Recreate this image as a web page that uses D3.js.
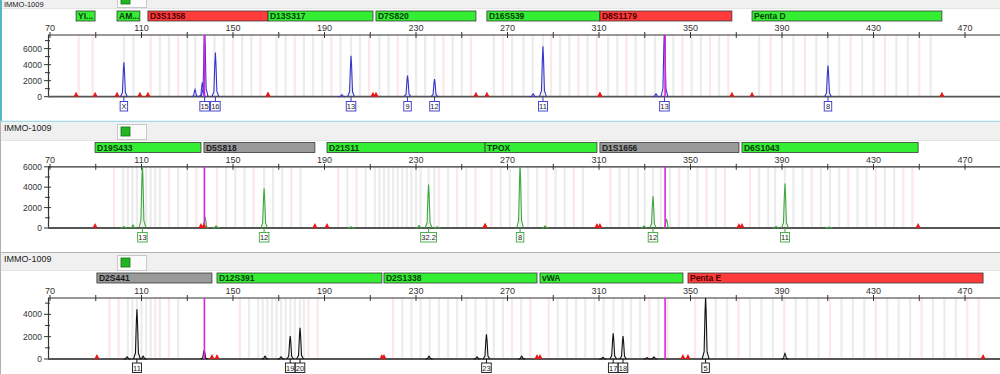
<!DOCTYPE html>
<html><head><meta charset="utf-8">
<script src="https://cdn.jsdelivr.net/npm/d3@7"></script>
<style>body{margin:0;background:#fff;overflow:hidden}svg{display:block;font-family:"Liberation Sans",Arial,sans-serif}</style>
</head><body><svg id="c" width="1000" height="374"></svg>
<script>
// ---------- data ----------
const sampleName = "IMMO-1009";
const bpTicks = [70,90,110,130,150,170,190,210,230,250,270,290,310,330,350,370,390,410,430,450,470,490];
const bpLabels = [70,110,150,190,230,270,310,350,390,430,470];
const editLines = [137.5, 338.9];

// markers: [name, startBp, endBp, status]
const blueMarkers = [["YI...",81.4,89.7,"ok"],["AM...",99.3,109.3,"ok"],["D3S1358",112.8,165.3,"bad"],["D13S317",165.3,211.2,"ok"],["D7S820",212.5,256.2,"ok"],["D16S539",261.0,310.4,"ok"],["D8S1179",310.4,368.1,"bad"],["Penta D",376.9,459.9,"ok"]];
const greenMarkers = [["D19S433",89.7,136.0,"ok"],["D5S818",137.3,185.8,"off"],["D21S11",191.1,260.2,"ok"],["TPOX",260.2,309.1,"ok"],["D1S1656",310.4,371.2,"off"],["D6S1043",372.5,449.5,"ok"]];
const yellowMarkers = [["D2S441",90.5,140.8,"off"],["D12S391",143.0,215.1,"ok"],["D2S1338",216.0,282.9,"ok"],["vWA",284.2,346.7,"ok"],["Penta E",348.9,477.9,"bad"]];

// peaks: [bp, rfu, allele]
const bluePeaks = [[102.3,4300,"X"],[133.4,900,null],[136.6,1800,null],[137.6,8500,"15"],[142.3,5500,"16"],[197.6,250,null],[201.6,5100,"13"],[226.3,2650,"9"],[238.1,2200,"12"],[281.2,350,null],[285.5,6300,"11"],[334.9,350,null],[338.6,8500,"13"],[410.1,3900,"8"]];
const greenPeaks = [[102.3,150,null],[106.3,300,null],[110.4,6100,"13"],[137.8,1100,null],[142.6,200,null],[163.6,3900,"12"],[201.6,120,null],[231.3,250,null],[235.5,4250,"32.2"],[239.2,120,null],[275.5,6100,"8"],[286.4,200,null],[329.7,200,null],[333.6,3100,"12"],[339.5,900,null],[387.4,150,null],[391.3,4350,"11"],[410.5,100,null]];
const yellowPeaks = [[103.7,200,null],[108.0,4450,"11"],[110.7,250,null],[137.4,800,null],[164.0,250,null],[171.0,200,null],[175.0,2050,"19"],[179.3,2800,"20"],[235.7,250,null],[256.7,200,null],[260.8,2200,"23"],[276.2,250,null],[311.7,150,null],[316.2,2300,"17"],[320.5,2050,"18"],[331.0,120,null],[334.0,180,null],[356.6,5500,"5"],[391.3,500,null]];

// bins: [bp, kind]  g = ladder bin, p = virtual bin
const blueBins = [[82.5,"p"],[88.6,"p"],[102.3,"g"],[106.5,"g"],[114,"p"],[118,"g"],[122,"g"],[126,"p"],[130,"g"],[133.5,"g"],[137.6,"g"],[141.9,"g"],[146,"g"],[150,"p"],[154,"g"],[158,"g"],[162,"p"],[169,"g"],[173,"g"],[177,"p"],[181,"g"],[185,"g"],[189,"g"],[193,"p"],[197,"g"],[201.6,"g"],[205.5,"g"],[209.5,"p"],[214,"g"],[218,"g"],[222,"p"],[226.3,"g"],[230,"g"],[234,"g"],[238.1,"g"],[242,"p"],[246,"g"],[250,"g"],[254,"p"],[264,"g"],[268,"p"],[272,"g"],[277,"g"],[281,"g"],[285.5,"g"],[289,"p"],[293,"g"],[297,"g"],[301,"p"],[305,"g"],[309,"p"],[314,"g"],[318,"g"],[322,"p"],[326,"g"],[330,"g"],[334.5,"g"],[338.6,"g"],[342.5,"g"],[346.5,"p"],[350.5,"g"],[354.5,"g"],[358.5,"p"],[362.5,"g"],[366.5,"p"],[380,"g"],[385,"p"],[390,"g"],[395,"g"],[400,"p"],[405,"g"],[410.1,"g"],[415,"g"],[420,"p"],[425,"g"],[430,"g"],[435,"p"],[440,"g"],[445,"g"],[450,"p"],[455,"g"]];
const greenBins = [[98,"p"],[102,"g"],[104,"g"],[106,"g"],[108,"g"],[110.4,"g"],[112,"g"],[114,"g"],[116,"g"],[118,"g"],[122,"p"],[126,"g"],[130,"g"],[134,"p"],[143,"p"],[147,"g"],[151,"g"],[155,"g"],[159,"p"],[163.6,"g"],[167.5,"g"],[171.5,"g"],[175.5,"p"],[179.5,"g"],[196,"p"],[200,"g"],[204,"p"],[208,"g"],[212,"g"],[214,"g"],[216,"g"],[218,"g"],[220,"g"],[222,"g"],[224,"g"],[226,"g"],[228,"g"],[230,"g"],[232,"g"],[235.5,"g"],[238,"g"],[240,"p"],[244,"g"],[248,"p"],[252,"g"],[256,"p"],[263,"p"],[267,"g"],[271,"g"],[275.5,"g"],[279,"g"],[283,"g"],[287,"p"],[291,"g"],[295,"g"],[299,"p"],[303,"g"],[315,"p"],[319,"g"],[323,"g"],[327,"g"],[330,"g"],[333.6,"g"],[337,"g"],[341,"g"],[345,"p"],[349,"g"],[353,"g"],[357,"p"],[361,"g"],[365,"p"],[376,"p"],[380,"g"],[384,"g"],[387,"g"],[391.3,"g"],[395,"g"],[399,"g"],[403,"p"],[407,"g"],[411,"g"],[415,"g"],[419,"p"],[423,"g"],[427,"g"],[431,"p"],[435,"g"],[439,"g"],[443,"p"],[447,"p"]];
const yellowBins = [[96,"p"],[100,"p"],[104,"g"],[106,"g"],[108,"g"],[110,"g"],[112,"g"],[114,"g"],[116,"p"],[118,"g"],[122,"p"],[126,"g"],[153,"p"],[157,"g"],[161,"g"],[163,"g"],[165,"g"],[167,"g"],[169,"g"],[171,"g"],[173,"g"],[175.1,"g"],[177,"g"],[179.3,"g"],[181,"g"],[183,"p"],[187,"p"],[220,"p"],[224,"g"],[228,"g"],[232,"g"],[236,"g"],[240,"g"],[244,"g"],[248,"g"],[252,"g"],[256,"g"],[260.8,"g"],[264,"g"],[268,"g"],[272,"p"],[276,"g"],[280,"p"],[288,"p"],[292,"g"],[296,"g"],[300,"g"],[304,"g"],[308,"g"],[312,"g"],[316.3,"g"],[320.3,"g"],[324,"g"],[328,"g"],[332,"p"],[336,"g"],[340,"p"],[352,"p"],[356.6,"g"],[361,"g"],[366,"g"],[371,"p"],[376,"g"],[381,"g"],[386,"g"],[391,"p"],[396,"g"],[401,"g"],[406,"g"],[411,"p"],[416,"g"],[421,"g"],[426,"g"],[431,"p"],[436,"g"],[441,"g"],[446,"g"],[451,"p"],[456,"g"],[461,"g"],[466,"g"],[471,"p"],[476,"p"]];

const rfuTicks1 = [0,2000,4000,6000], rfuMinor1 = [1000,3000,5000,7000];
const rfuTicks2 = [0,2000,4000,6000], rfuMinor2 = [1000,3000,5000];
const rfuTicks3 = [0,2000,4000], rfuMinor3 = [1000,3000,5000];

// ---------- layout / style ----------
const svg = d3.select("#c");
const W = 1000;
const x = d3.scaleLinear().domain([70,470]).range([50,965]);
const markerFill = {ok:"#33ee33", bad:"#ff3b3b", off:"#9a9a9a"};
const markerText = {ok:"#0b3a0b", bad:"#4a0000", off:"#1a1a1a"};

const panels = [
  {markers:blueMarkers, peaks:bluePeaks, bins:blueBins, ticks:rfuTicks1, minor:rfuMinor1, ymax:7700,
   top:35, base:96.7, markerY:11, labelY:101.5, head:[-10,8], textY:7, btnY:-8, color:"#3434cc"},
  {markers:greenMarkers, peaks:greenPeaks, bins:greenBins, ticks:rfuTicks2, minor:rfuMinor2, ymax:6000,
   top:166.8, base:228, markerY:142.5, labelY:232.5, head:[123,140], textY:131, btnY:124, color:"#3ca83c"},
  {markers:yellowMarkers, peaks:yellowPeaks, bins:yellowBins, ticks:rfuTicks3, minor:rfuMinor3, ymax:5460,
   top:298, base:359, markerY:273, labelY:363, head:[253,270], textY:262, btnY:255, color:"#111111"}
];

panels.forEach((p,i)=>{
  const g = svg.append("g");
  const y = d3.scaleLinear().domain([0,p.ymax]).range([p.base,p.top]);

  // header band
  g.append("rect").attr("x",0).attr("y",p.head[0]).attr("width",W).attr("height",p.head[1]-p.head[0]).attr("fill","#f0f0f0");
  g.append("line").attr("x1",0).attr("x2",W).attr("y1",p.head[1]+0.5).attr("y2",p.head[1]+0.5).attr("stroke","#e4e4e4");
  g.append("text").attr("x",4).attr("y",p.textY).attr("font-size",i===0?7.5:9).attr("fill","#222").text(sampleName);
  g.append("rect").attr("x",117.5).attr("y",p.btnY+0.5).attr("width",29).attr("height",15).attr("fill","#fbfbfb").attr("stroke","#c8c8c8");
  g.append("rect").attr("x",121).attr("y",p.btnY+3).attr("width",9).attr("height",9).attr("fill","#22b522").attr("stroke","#137013").attr("stroke-width",0.8);

  // marker boxes
  const mk = g.selectAll("g.mk").data(p.markers).join("g");
  mk.append("rect").attr("x",d=>x(d[1])).attr("y",p.markerY).attr("width",d=>x(d[2])-x(d[1])).attr("height",10)
    .attr("fill",d=>markerFill[d[3]]).attr("stroke","#3a3a3a").attr("stroke-width",0.8);
  mk.append("text").attr("x",d=>x(d[1])+2).attr("y",p.markerY+8.2).attr("font-size",8.5).attr("font-weight","bold")
    .attr("fill",d=>markerText[d[3]]).text(d=>d[0]);

  // bins
  g.selectAll("rect.bin").data(p.bins).join("rect").attr("class","bin")
    .attr("x",d=>x(d[0])-1.1).attr("width",2.2).attr("y",p.top).attr("height",p.base-p.top)
    .attr("fill",d=>d[1]==="g"?"#ececec":"#fde7e7");

  // top axis
  g.append("line").attr("x1",48).attr("x2",W).attr("y1",p.top).attr("y2",p.top).attr("stroke","#333").attr("stroke-width",1.2);
  g.selectAll("line.xt").data(bpTicks).join("line").attr("x1",d=>x(d)).attr("x2",d=>x(d)).attr("y1",p.top-3).attr("y2",p.top+3).attr("stroke","#333");
  g.selectAll("text.xl").data(bpLabels).join("text").attr("x",d=>x(d)).attr("y",p.top-4).attr("text-anchor","middle")
    .attr("font-size",9).attr("fill","#333").text(d=>d);

  // left axis
  g.append("line").attr("x1",48.5).attr("x2",48.5).attr("y1",p.top).attr("y2",p.base).attr("stroke","#333").attr("stroke-width",1.2);
  g.selectAll("line.yt").data(p.ticks).join("line").attr("x1",44).attr("x2",51).attr("y1",d=>y(d)).attr("y2",d=>y(d)).attr("stroke","#333");
  g.selectAll("line.ym").data(p.minor.filter(v=>v<=p.ymax)).join("line").attr("x1",45).attr("x2",50).attr("y1",d=>y(d)).attr("y2",d=>y(d)).attr("stroke","#333");
  g.selectAll("text.yl").data(p.ticks).join("text").attr("x",42).attr("y",d=>y(d)+3).attr("text-anchor","end")
    .attr("font-size",8.5).attr("fill","#333").text(d=>d);

  // baseline
  g.append("line").attr("x1",48).attr("x2",W).attr("y1",p.base).attr("y2",p.base).attr("stroke","#555").attr("stroke-width",1.8);

  // peaks (clipped)
  const cid = "clip"+i;
  svg.append("clipPath").attr("id",cid).append("rect").attr("x",48).attr("y",p.top).attr("width",W-48).attr("height",p.base-p.top+2);
  const line = d3.line().x(d=>x(d[0])).y(d=>y(d[1]));
  g.append("g").attr("clip-path",`url(#${cid})`).selectAll("path").data(p.peaks).join("path")
    .attr("d",d=>line([[d[0]-1.5,0],[d[0]-0.65,d[1]*0.12],[d[0]-0.25,d[1]*0.75],[d[0],d[1]],[d[0]+0.25,d[1]*0.75],[d[0]+0.65,d[1]*0.12],[d[0]+1.5,0]]))
    .attr("fill","none").attr("stroke",p.color).attr("stroke-width",1.1);

  // edit lines
  g.selectAll("line.ed").data(editLines).join("line").attr("x1",d=>x(d)).attr("x2",d=>x(d)).attr("y1",p.top).attr("y2",p.base)
    .attr("stroke","#e020e0").attr("stroke-width",1.6);

  // marker boundary triangles
  const ends = p.markers.flatMap(m=>[m[1],m[2]]);
  g.selectAll("path.tri").data(ends).join("path")
    .attr("d",d=>`M${x(d)-2.6},${p.base}L${x(d)},${p.base-5}L${x(d)+2.6},${p.base}Z`).attr("fill","#e81818");

  // allele labels
  const lab = g.selectAll("g.lab").data(p.peaks.filter(d=>d[2])).join("g");
  lab.append("line").attr("x1",d=>x(d[0])).attr("x2",d=>x(d[0])).attr("y1",p.base).attr("y2",p.labelY).attr("stroke",p.color);
  lab.each(function(d){
    const s = d3.select(this);
    const t = s.append("text").attr("x",x(d[0])).attr("y",p.labelY+7.6).attr("text-anchor","middle").attr("font-size",7.5).attr("fill","#222").text(d[2]);
    const w = Math.max(7.5, t.node().getComputedTextLength()+1.2);
    s.insert("rect","text").attr("x",x(d[0])-w/2).attr("y",p.labelY).attr("width",w).attr("height",9.5)
      .attr("fill","#fff").attr("stroke",p.color).attr("stroke-width",0.9);
  });
});

// frame lines
svg.append("line").attr("x1",1).attr("x2",1).attr("y1",0).attr("y2",121).attr("stroke","#5ab4c4").attr("stroke-width",2);
svg.append("line").attr("x1",0).attr("x2",W).attr("y1",121.5).attr("y2",121.5).attr("stroke","#a6d8e6").attr("stroke-width",1.6);
svg.append("line").attr("x1",0.5).attr("x2",0.5).attr("y1",122).attr("y2",374).attr("stroke","#b0b0b0");
svg.append("line").attr("x1",0).attr("x2",W).attr("y1",252.5).attr("y2",252.5).attr("stroke","#b5b5b5").attr("stroke-width",1.2);
</script></body></html>
